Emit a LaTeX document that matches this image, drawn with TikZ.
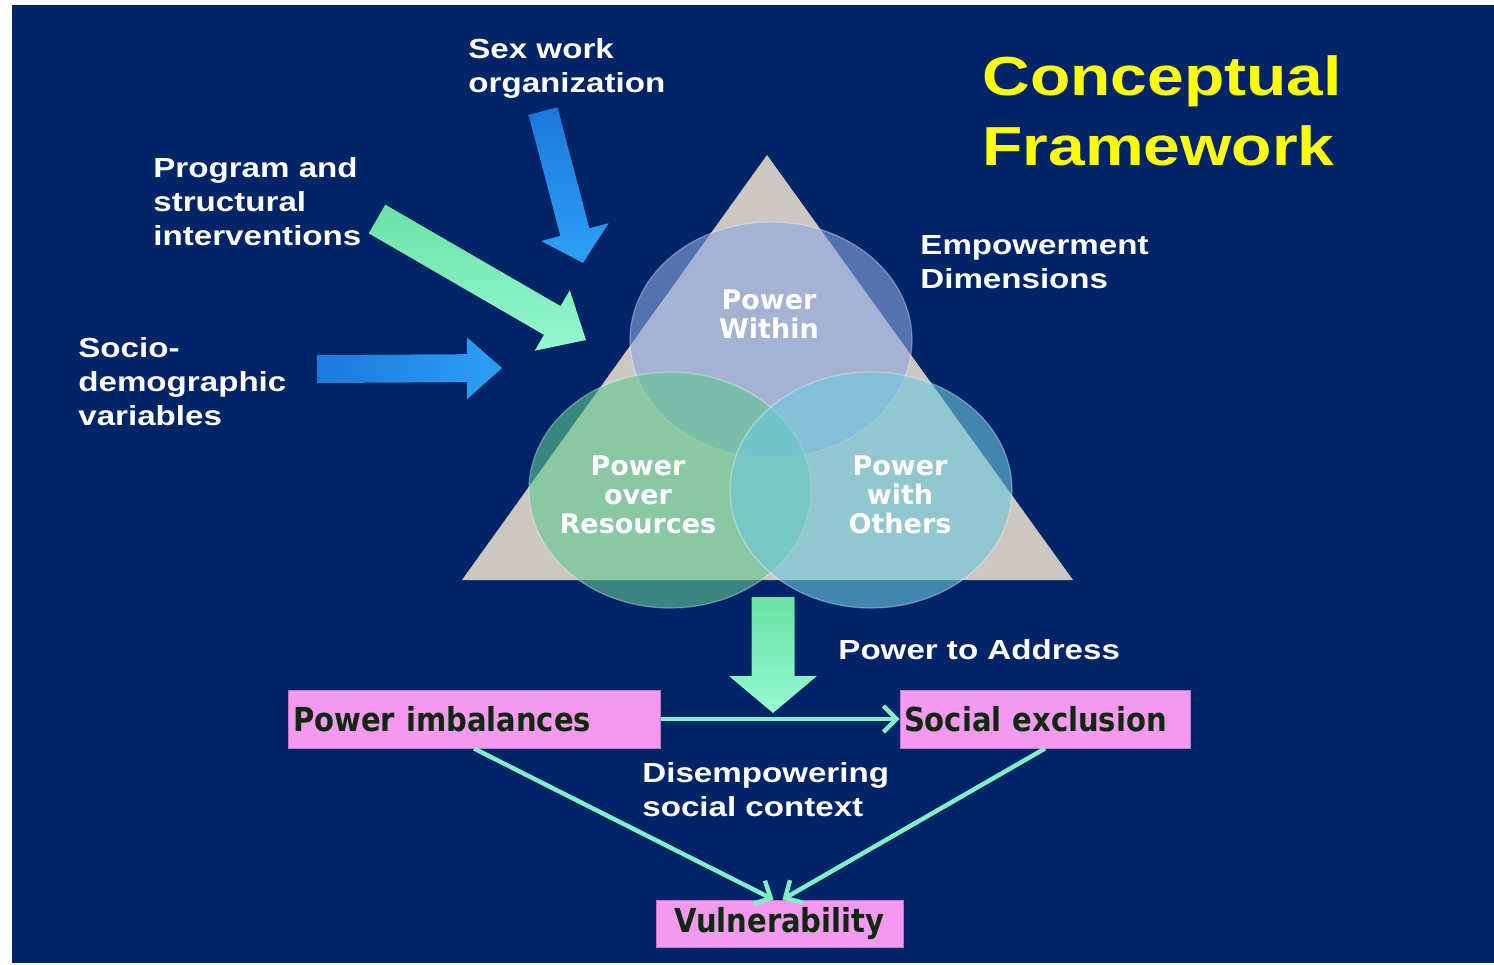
\documentclass[tikz,border=0pt]{standalone}
\usepackage{fontspec}
\setmainfont{Liberation Sans}
\newfontfamily\labelfont[FakeStretch=1.2]{Liberation Sans}
\newfontfamily\circlefont{DejaVu Sans}
\newfontfamily\boxfont[FakeStretch=0.88]{DejaVu Sans}
\usetikzlibrary{arrows.meta,calc,shapes.geometric}

\definecolor{navy}{RGB}{0,36,104}
\definecolor{tri}{RGB}{204,199,192}
\definecolor{within}{RGB}{140,165,225}
\definecolor{resgreen}{RGB}{95,200,145}
\definecolor{otherscyan}{RGB}{110,200,220}
\definecolor{pinkbox}{RGB}{243,153,240}
\definecolor{boxtext}{RGB}{16,40,16}
\definecolor{linkgreen}{RGB}{128,240,200}
\definecolor{titleyellow}{RGB}{255,255,0}
\definecolor{bluedark}{RGB}{28,120,220}
\definecolor{bluelight}{RGB}{45,160,245}
\definecolor{greendark}{RGB}{105,225,165}
\definecolor{greenlight}{RGB}{150,250,210}

\tikzset{
  label text/.style={anchor=north west, inner sep=0pt, align=left, text=white,
    font=\labelfont\bfseries\fontsize{13.8}{17}\selectfont},
  dimension/.style={ellipse, minimum width=141pt, minimum height=118pt, inner sep=0pt,
    draw=white, draw opacity=0.35, line width=0.6pt, fill opacity=0.6},
  dimension text/.style={align=center, text=white, inner sep=0pt,
    font=\circlefont\bfseries\fontsize{13.5}{14.5}\selectfont},
  outcome/.style={rectangle, fill=pinkbox, draw=pinkbox!80!black, line width=0.5pt,
    minimum height=29pt, text=boxtext, font=\boxfont\bfseries\fontsize{16.5}{18}\selectfont},
  connector/.style={draw=linkgreen, line width=2.2pt, -{Straight Barb[length=6.5pt,width=13pt]}},
}

% block arrow: fill, start, tip, half shaft, half head, head length
\newcommand{\blockarrow}[6]{%
  \coordinate (ba-s) at #2;
  \coordinate (ba-t) at #3;
  \coordinate (ba-b) at ($(ba-t)!#6!(ba-s)$);
  \fill[#1] ($(ba-s)!#4!90:(ba-t)$) -- ($(ba-b)!#4!90:(ba-t)$) -- ($(ba-b)!#5!90:(ba-t)$)
    -- (ba-t) -- ($(ba-b)!#5!-90:(ba-t)$) -- ($(ba-b)!#4!-90:(ba-t)$) -- ($(ba-s)!#4!-90:(ba-t)$) -- cycle;
}

\begin{document}
\begin{tikzpicture}[x=0.5pt,y=-0.5pt]
	\useasboundingbox (0,0) rectangle (1494,964);
	\fill[white] (0,0) rectangle (1494,964);
	\fill[navy] (12,5) rectangle (1494,963);

	% triangle and the three dimensions
	\fill[tri] (767,155) -- (1073,580) -- (462,580) -- cycle;
	\node[dimension, fill=within] (within) at (771,340) {};
	\node[dimension, fill=resgreen] (resources) at (670,490) {};
	\node[dimension, fill=otherscyan] (others) at (871,490) {};
	\node[dimension text] (within-t) at (769,314) {Power\\Within};
	\node[dimension text] (resources-t) at (638,495) {Power\\over\\Resources};
	\node[dimension text] (others-t) at (900,495) {Power\\with\\Others};

	% inputs
	\blockarrow{top color=bluedark,bottom color=bluelight}{(543,111)}{(583,263)}{7.5pt}{17.5pt}{16pt}
	\blockarrow{top color=greendark,bottom color=greenlight}{(377,219)}{(586,340)}{8.3pt}{17.5pt}{19.5pt}
	\blockarrow{left color=bluedark,right color=bluelight}{(317,369)}{(502,368)}{7pt}{15.5pt}{17.5pt}
	\blockarrow{top color=greendark,bottom color=greenlight}{(773,597)}{(773,713)}{10.75pt}{22pt}{18.5pt}

	\node[label text] (sexwork) at (468,38) {Sex work\\organization};
	\node[label text] (program) at (153,157) {Program and\\structural\\interventions};
	\node[label text] (socio) at (78,337) {Socio-\\demographic\\variables};
	\node[label text] (empower) at (920,235) {Empowerment\\Dimensions};
	\node[label text] (address) at (838,639) {Power to Address};
	\node[label text] (context) at (642,762) {Disempowering\\social context};
	\node[label text, text=titleyellow, font=\labelfont\bfseries\fontsize{27.5}{35}\selectfont] (title) at (982,55) {Conceptual\\Framework};

	% social context
	\node[outcome, minimum width=186pt, text width=181pt, inner xsep=2.5pt, align=left] (imbalance) at (474,719) {Power imbalances};
	\node[outcome, minimum width=145pt, text width=141pt, inner xsep=2pt, align=left] (exclusion) at (1045,719) {Social exclusion};
	\node[outcome, minimum width=123.5pt, minimum height=23.5pt] (vulner) at (779.5,923.5) {Vulnerability};

	\draw[connector] (imbalance.east) -- (exclusion.west);
	\draw[connector] (imbalance.south) -- ([xshift=-3pt]vulner.north);
	\draw[connector] (exclusion.south) -- ([xshift=1.5pt]vulner.north);
\end{tikzpicture}
\end{document}
